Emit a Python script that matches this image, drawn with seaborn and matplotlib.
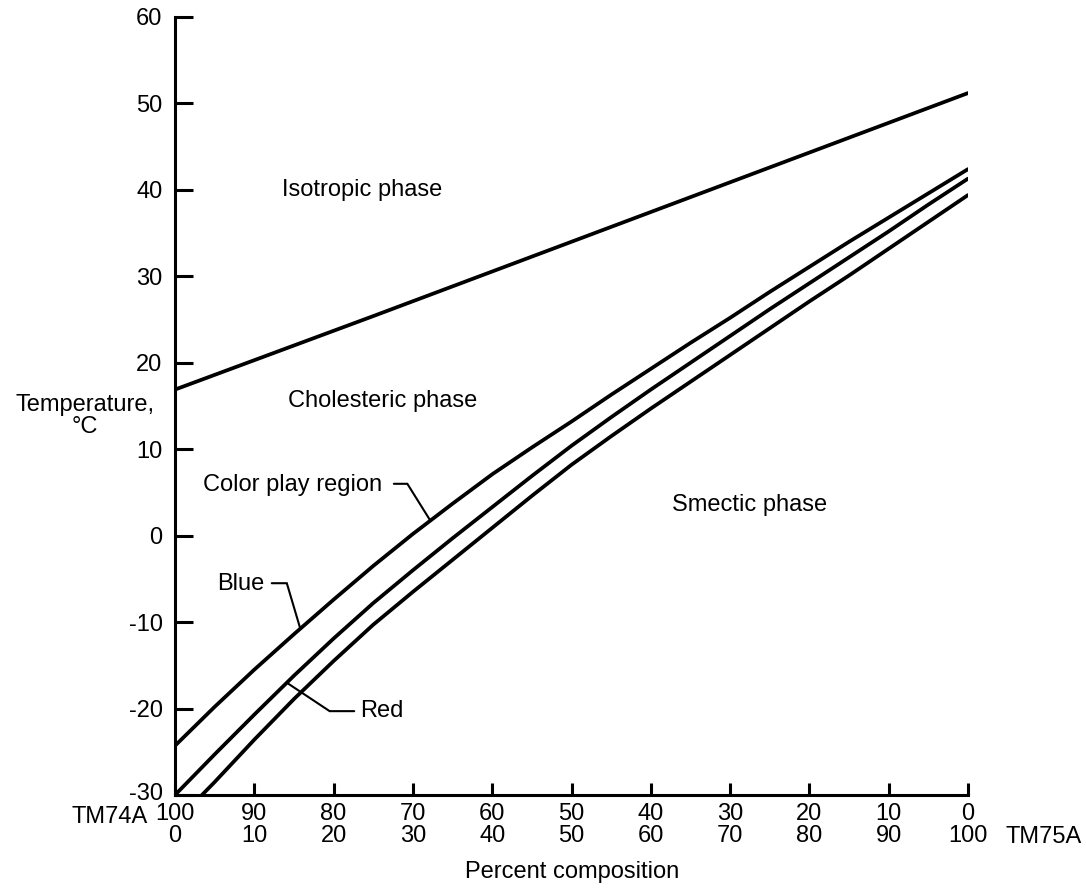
import numpy as np
import matplotlib
matplotlib.use("Agg")
import matplotlib.pyplot as plt
from matplotlib.transforms import ScaledTranslation
import seaborn as sns

# Composition axis: percent TM75A (left = 0 %, right = 100 %); TM74A = 100 - TM75A
tm75a_ticks = [0, 10, 20, 30, 40, 50, 60, 70, 80, 90, 100]
temp_ticks = [-30, -20, -10, 0, 10, 20, 30, 40, 50, 60]

# Isotropic / cholesteric transition
iso_x = [0, 25, 50, 75, 100]
iso_t = [16.9, 25.4, 34.0, 42.6, 51.2]

comp_x = [0, 5, 10, 15, 20, 25, 30, 35, 40, 45, 50,
          55, 60, 65, 70, 75, 80, 85, 90, 95, 100]

# Upper edge of the colour play region (blue)
blue_t = [-24.3, -19.8, -15.5, -11.4, -7.4, -3.5, 0.2, 3.7, 7.1, 10.2, 13.2,
          16.3, 19.3, 22.3, 25.2, 28.2, 31.1, 34.0, 36.8, 39.6, 42.4]

# Red edge of the colour play region
red_t = [-30.0, -25.3, -20.7, -16.2, -11.9, -7.8, -4.0, -0.3, 3.3, 6.9, 10.4,
         13.7, 16.9, 20.0, 23.1, 26.2, 29.2, 32.2, 35.2, 38.3, 41.3]

# Cholesteric / smectic transition
smec_x = [3.4, 5, 10, 15, 20, 25, 30, 35, 40, 45, 50,
          55, 60, 65, 70, 75, 80, 85, 90, 95, 100]
smec_t = [-30.0, -28.5, -23.6, -18.9, -14.5, -10.3, -6.5, -2.8, 0.9, 4.6, 8.2,
          11.5, 14.7, 17.8, 20.9, 24.0, 27.1, 30.1, 33.2, 36.3, 39.4]

sns.set_theme(style="ticks")
plt.rcParams["font.family"] = ["Liberation Sans", "DejaVu Sans"]
plt.rcParams["font.size"] = 17
plt.rcParams["text.color"] = "black"
plt.rcParams["axes.labelcolor"] = "black"

FS = 17
W, H = 1086, 888
fig = plt.figure(figsize=(W / 100, H / 100), dpi=100)
ax = fig.add_axes([175 / W, 93 / H, (968 - 175) / W, (795 - 17) / H])

line_kw = dict(color="black", linewidth=2.7, estimator=None, sort=False, ax=ax)
sns.lineplot(x=iso_x, y=iso_t, **line_kw)
sns.lineplot(x=comp_x, y=blue_t, **line_kw)
sns.lineplot(x=comp_x, y=red_t, **line_kw)
sns.lineplot(x=smec_x, y=smec_t, **line_kw)

ax.set_xlim(0, 100)
ax.set_ylim(-30, 60)
sns.despine(ax=ax)
for side in ("left", "bottom"):
    ax.spines[side].set_linewidth(2.2)
    ax.spines[side].set_color("black")

ax.set_yticks(temp_ticks)
ax.set_yticklabels([str(t) for t in temp_ticks])
ax.set_xticks(tm75a_ticks)
ax.set_xticklabels([f"{100 - t}\n{t}" for t in tm75a_ticks], linespacing=1.0)
ax.tick_params(axis="y", direction="in", length=13, width=2.2, pad=9,
               labelsize=FS, colors="black")
ax.tick_params(axis="x", direction="in", length=9, width=2.2, pad=6,
               labelsize=FS, colors="black")
ax.grid(False)

# lift the lowest temperature label slightly off the composition row
low = ax.yaxis.get_major_ticks()[0].label1
low.set_transform(low.get_transform() + ScaledTranslation(0, 3 / 100, fig.dpi_scale_trans))

# Phase region names
txt = dict(fontsize=FS, color="black", va="center", ha="left")
ax.text(13.5, 40.0, "Isotropic phase", **txt)
ax.text(14.2, 15.6, "Cholesteric phase", **txt)
ax.text(62.7, 3.5, "Smectic phase", **txt)
ax.text(3.5, 5.9, "Color play region", **txt)
ax.text(5.3, -5.6, "Blue", **txt)
ax.text(23.3, -20.3, "Red", **txt)

# Leader lines from the labels to the curves
lead_kw = dict(color="black", linewidth=1.5, solid_joinstyle="miter")
x_on = 32.2
ax.plot([27.6, 29.3, x_on], [6.0, 6.0, np.interp(x_on, comp_x, blue_t)], **lead_kw)
x_on = 15.8
ax.plot([12.2, 14.1, x_on], [-5.5, -5.5, np.interp(x_on, comp_x, blue_t)], **lead_kw)
x_on = 14.1
ax.plot([x_on, 19.5, 22.6], [np.interp(x_on, comp_x, red_t), -20.3, -20.3], **lead_kw)

# Axis titles and component names
ax.set_xlabel("")
ax.set_ylabel("")
fig.text(85 / W, 1 - 416 / H, "Temperature,\n°C", ha="center", va="center",
         fontsize=FS, linespacing=0.95, color="black")
fig.text(572 / W, 1 - 872 / H, "Percent composition", ha="center", va="center",
         fontsize=FS, color="black")
fig.text(148 / W, 1 - 817 / H, "TM74A", ha="right", va="center", fontsize=FS,
         color="black")
fig.text(1005 / W, 1 - 837 / H, "TM75A", ha="left", va="center", fontsize=FS,
         color="black")

fig.savefig("out.png", dpi=100, facecolor="white")
